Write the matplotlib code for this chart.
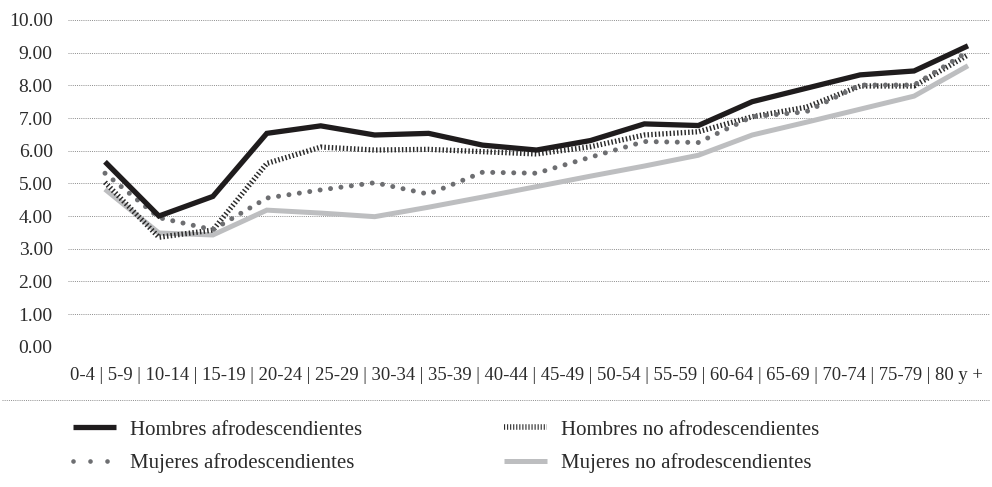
import matplotlib.pyplot as plt
from matplotlib.lines import Line2D

# Age groups and rates
age_groups = ["0-4", "5-9", "10-14", "15-19", "20-24", "25-29", "30-34", "35-39", "40-44",
              "45-49", "50-54", "55-59", "60-64", "65-69", "70-74", "75-79", "80 y +"]

hombres_afro = [5.66, 4.00, 4.60, 6.53, 6.76, 6.48, 6.53, 6.17, 6.02,
                6.31, 6.82, 6.77, 7.50, 7.91, 8.32, 8.44, 9.21]
hombres_no_afro = [5.03, 3.35, 3.57, 5.61, 6.11, 6.02, 6.04, 5.97, 5.90,
                   6.12, 6.48, 6.58, 7.04, 7.33, 7.98, 7.98, 8.93]
mujeres_afro = [5.31, 3.95, 3.58, 4.55, 4.80, 5.02, 4.67, 5.34, 5.31,
                5.80, 6.28, 6.25, 7.04, 7.19, 8.01, 8.01, 9.03]
mujeres_no_afro = [4.82, 3.48, 3.42, 4.18, 4.09, 3.98, 4.27, 4.58, 4.90,
                   5.22, 5.53, 5.86, 6.48, 6.87, 7.27, 7.67, 8.60]

y_ticks = [0, 1, 2, 3, 4, 5, 6, 7, 8, 9, 10]

plt.rcParams["font.family"] = ["Liberation Serif", "DejaVu Serif"]
text_color = "#2b2b2b"

W, H = 992, 487
fig = plt.figure(figsize=(W / 100, H / 100), dpi=100)
ax = fig.add_axes([68 / W, (H - 346.7) / H, 922 / W, 326.7 / H])

x = list(range(len(age_groups)))

# styles
gray_style = dict(color="#bdbec0", lw=3.6, solid_capstyle="butt", solid_joinstyle="miter")
hatch_style = dict(color="#2a2a2a", lw=3.8, linestyle=(0, (0.28, 0.42)), dash_capstyle="butt")
dot_style = dict(color="#6d6e71", lw=3.6, linestyle=(0, (0.001, 2.1)), dash_capstyle="round")
black_style = dict(color="#1f1c1d", lw=3.8, solid_joinstyle="miter", solid_capstyle="butt")

ax.plot(x, mujeres_no_afro, **gray_style, zorder=3)
ax.plot(x, hombres_no_afro, **hatch_style, zorder=4)
ax.plot(x, mujeres_afro, **dot_style, zorder=5)
ax.plot(x, hombres_afro, **black_style, zorder=6)

ax.set_xlim(-0.686, 16.408)
ax.set_ylim(0, 10)
ax.set_yticks(y_ticks)
ax.set_yticklabels([f"{v:.2f}" for v in y_ticks], fontsize=14, color=text_color)
ax.set_xticks([])
ax.tick_params(axis="y", length=0, pad=11)
ax.yaxis.grid(True, linestyle=(0, (1, 1.2)), color="#8c8c8c", lw=0.7)
ax.set_axisbelow(True)
for s in ax.spines.values():
    s.set_visible(False)

# category row written as one line with separators
fig.text(70 / W, (H - 375) / H, " | ".join(age_groups), ha="left", va="center",
         fontsize=13.4, color=text_color)

# dotted rule above the legend
fig.add_artist(Line2D([2 / W, 990 / W], [(H - 400) / H] * 2, transform=fig.transFigure,
                      linestyle=(0, (1, 1.2)), color="#8c8c8c", lw=0.7))

# legend proxies
handles = [
    Line2D([], [], **black_style),
    Line2D([], [], color="#6d6e71", lw=3.4, linestyle=(0, (0.001, 3.6)), dash_capstyle="round"),
    Line2D([], [], color="#2a2a2a", lw=4.0, linestyle=(0, (0.2, 0.35)), dash_capstyle="butt"),
    Line2D([], [], **gray_style),
]
labels = ["Hombres afrodescendientes", "Mujeres afrodescendientes",
          "Hombres no afrodescendientes", "Mujeres no afrodescendientes"]
fig.legend(handles, labels, ncol=2, loc="upper left", bbox_to_anchor=(73 / W, (H - 420) / H),
           frameon=False, fontsize=15, handlelength=2.05, handletextpad=0.7,
           columnspacing=6.8, labelspacing=0.65, borderpad=0, borderaxespad=0,
           labelcolor=text_color)

fig.savefig("out.png", dpi=100)
